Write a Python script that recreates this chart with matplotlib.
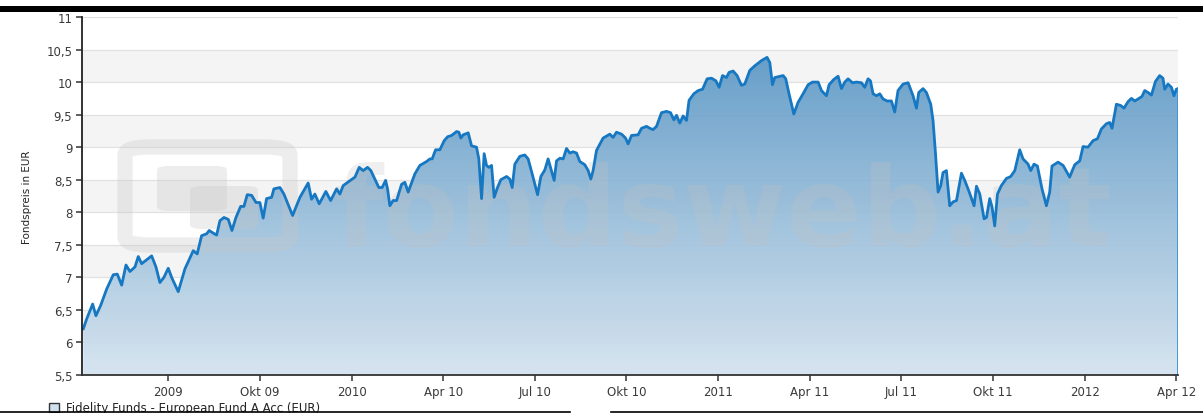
import numpy as np
import matplotlib
matplotlib.use("Agg")
import matplotlib.pyplot as plt
from matplotlib.patches import Polygon, Rectangle, FancyBboxPatch
from matplotlib.lines import Line2D

# ---------------- data ----------------
# x position in "tick units": 0 = 2009, 1 = Okt 09, 2 = 2010, ... 11 = Apr 12
pos = [
    -0.927, -0.890, -0.825, -0.789, -0.737, -0.672, -0.600, -0.556, -0.508, -0.461,
    -0.418, -0.363, -0.327, -0.290, -0.181, -0.134, -0.091, -0.047, 0.000, 0.037,
    0.109, 0.182, 0.273, 0.316, 0.364, 0.419, 0.447, 0.491, 0.528, 0.564,
    0.608, 0.655, 0.695, 0.739, 0.790, 0.826, 0.862, 0.910, 0.957, 1.000,
    1.036, 1.073, 1.128, 1.153, 1.219, 1.262, 1.357, 1.437, 1.527, 1.564,
    1.600, 1.647, 1.720, 1.772, 1.837, 1.873, 1.909, 2.037, 2.084,
    2.127, 2.175, 2.211, 2.255, 2.298, 2.334, 2.372, 2.393, 2.418, 2.454,
    2.492, 2.546, 2.582, 2.618, 2.691, 2.746, 2.819, 2.855, 2.880, 2.917,
    2.964, 3.011, 3.048, 3.092, 3.146, 3.171, 3.193, 3.218, 3.273, 3.310,
    3.364, 3.389, 3.419, 3.447, 3.473, 3.498, 3.528, 3.556, 3.593, 3.629,
    3.692, 3.727, 3.753, 3.782, 3.837, 3.891, 3.927, 3.971, 4.030, 4.066,
    4.109, 4.145, 4.175, 4.211, 4.237, 4.273, 4.309, 4.346, 4.382, 4.418,
    4.455, 4.491, 4.546, 4.582, 4.611, 4.636, 4.673, 4.745, 4.818, 4.854,
    4.891, 4.946, 4.990, 5.018, 5.055,
    5.127, 5.164, 5.219, 5.255, 5.291, 5.328, 5.382, 5.437, 5.481, 5.517,
    5.546, 5.582, 5.618, 5.655, 5.683, 5.735, 5.782, 5.830, 5.880, 5.928,
    5.975, 6.011, 6.048, 6.091, 6.120, 6.164, 6.207, 6.255, 6.291, 6.346,
    6.400, 6.473, 6.534, 6.564, 6.593, 6.618, 6.709, 6.738, 6.774, 6.826,
    6.873, 6.927, 6.982, 7.030, 7.091, 7.128, 7.182, 7.211, 7.262, 7.309,
    7.346, 7.382, 7.418, 7.466, 7.510, 7.564, 7.600, 7.636, 7.662, 7.691,
    7.728, 7.764, 7.800, 7.843, 7.891, 7.927, 7.963, 8.018, 8.073,
    8.127, 8.164, 8.189, 8.236, 8.273, 8.320, 8.345, 8.371, 8.400, 8.429,
    8.454, 8.491, 8.527, 8.564, 8.601, 8.655, 8.691, 8.735, 8.793, 8.819,
    8.855, 8.902, 8.928, 8.964, 8.989, 9.018, 9.048, 9.091, 9.146, 9.193,
    9.237, 9.291, 9.327, 9.382, 9.411, 9.447, 9.484, 9.534, 9.582, 9.618,
    9.643, 9.709, 9.764, 9.836, 9.891, 9.946, 9.982, 10.036, 10.091, 10.139,
    10.182, 10.237, 10.273, 10.298, 10.346, 10.393, 10.429, 10.473, 10.510, 10.546,
    10.582, 10.625, 10.655, 10.691, 10.728, 10.772, 10.818, 10.854, 10.873, 10.909,
    10.946, 10.974, 11.000, 11.018,
]
price = [
    6.21, 6.36, 6.59, 6.41, 6.57, 6.82, 7.04, 7.05, 6.88, 7.19,
    7.09, 7.16, 7.32, 7.21, 7.33, 7.16, 6.92, 7.00, 7.14, 7.00,
    6.78, 7.13, 7.41, 7.36, 7.64, 7.67, 7.72, 7.68, 7.65, 7.87,
    7.92, 7.89, 7.72, 7.92, 8.09, 8.09, 8.27, 8.26, 8.15, 8.15,
    7.91, 8.21, 8.23, 8.36, 8.38, 8.28, 7.95, 8.23, 8.45, 8.20,
    8.28, 8.13, 8.32, 8.18, 8.36, 8.28, 8.41, 8.54, 8.69,
    8.64, 8.69, 8.64, 8.51, 8.38, 8.38, 8.49, 8.36, 8.10, 8.18,
    8.18, 8.43, 8.46, 8.31, 8.59, 8.72, 8.78, 8.82, 8.82, 8.96,
    8.96, 9.10, 9.16, 9.18, 9.24, 9.23, 9.14, 9.19, 9.22, 9.02,
    9.00, 8.82, 8.21, 8.90, 8.72, 8.69, 8.72, 8.23, 8.38, 8.50,
    8.55, 8.51, 8.38, 8.74, 8.86, 8.88, 8.82, 8.59, 8.27, 8.55,
    8.65, 8.82, 8.67, 8.49, 8.79, 8.83, 8.82, 8.98, 8.91, 8.93,
    8.91, 8.78, 8.73, 8.64, 8.51, 8.64, 8.95, 9.14, 9.20, 9.15,
    9.23, 9.20, 9.14, 9.05, 9.18,
    9.19, 9.29, 9.32, 9.29, 9.27, 9.32, 9.53, 9.55, 9.53, 9.42,
    9.49, 9.37, 9.48, 9.41, 9.72, 9.82, 9.87, 9.89, 10.05, 10.06,
    10.02, 9.92, 10.10, 10.07, 10.15, 10.17, 10.10, 9.95, 9.97, 10.18,
    10.25, 10.33, 10.38, 10.30, 9.96, 10.07, 10.10, 10.05, 9.82, 9.51,
    9.69, 9.82, 9.96, 10.00, 10.00, 9.87, 9.79, 9.96, 10.04, 10.09,
    9.90, 10.00, 10.05, 9.99, 10.00, 9.99, 9.92, 10.05, 10.02, 9.82,
    9.79, 9.82, 9.74, 9.71, 9.71, 9.54, 9.87, 9.97, 9.99,
    9.79, 9.60, 9.84, 9.90, 9.84, 9.66, 9.41, 8.92, 8.31, 8.41,
    8.61, 8.64, 8.10, 8.16, 8.18, 8.60, 8.49, 8.33, 8.10, 8.40,
    8.28, 7.90, 7.92, 8.21, 8.08, 7.79, 8.28, 8.41, 8.52, 8.55,
    8.64, 8.96, 8.82, 8.74, 8.64, 8.74, 8.71, 8.36, 8.10, 8.31,
    8.71, 8.77, 8.72, 8.54, 8.73, 8.79, 9.01, 9.00, 9.10, 9.13,
    9.28, 9.36, 9.38, 9.29, 9.66, 9.64, 9.60, 9.70, 9.75, 9.71,
    9.74, 9.78, 9.87, 9.84, 9.80, 10.01, 10.10, 10.06, 9.89, 9.97,
    9.92, 9.79, 9.89, 9.90,
]
x_tick_pos = [0, 1, 2, 3, 4, 5, 6, 7, 8, 9, 10, 11]
x_tick_labels = ["2009", "Okt 09", "2010", "Apr 10", "Jul 10", "Okt 10",
                 "2011", "Apr 11", "Jul 11", "Okt 11", "2012", "Apr 12"]
y_ticks = [5.5, 6, 6.5, 7, 7.5, 8, 8.5, 9, 9.5, 10, 10.5, 11]
y_label = "Fondspreis in EUR"
legend_label = "Fidelity Funds - European Fund A Acc (EUR)"
watermark = "fondsweb.at"

# ---------------- figure ----------------
W, H = 1203, 414
fig = plt.figure(figsize=(W / 100, H / 100), dpi=100)
fig.patch.set_facecolor("white")
ax = fig.add_axes([82 / W, 1 - 376 / H, (1178 - 82) / W, (376 - 18) / H])

x = np.array(pos)
y = np.array(price)
ymin, ymax = 5.5, 11
xmin, xmax = -0.941, 11.018
ax.set_xlim(xmin, xmax)
ax.set_ylim(ymin, ymax)

# alternating bands + grid
for i, lo in enumerate(y_ticks[:-1]):
    if i % 2 == 1:
        ax.axhspan(lo, lo + 0.5, color="#f4f4f4", lw=0, zorder=0)
for t in y_ticks:
    ax.axhline(t, color="#e1e1e1", lw=0.9, zorder=0.5)

# gradient fill under the line
verts = np.vstack([[x[0], ymin], np.column_stack([x, y]), [x[-1], ymin]])
poly = Polygon(verts, closed=True, facecolor="none", edgecolor="none",
               transform=ax.transData)
ax.add_patch(poly)
top = np.array([80, 144, 193]) / 255
bot = np.array([212, 227, 239]) / 255
tt = np.linspace(0, 1, 256)[:, None]
grad = bot[None, :] * (1 - tt) + top[None, :] * tt
rgba = np.concatenate([grad, np.full((256, 1), 0.94)], axis=1)[:, None, :]
im = ax.imshow(rgba, extent=[xmin, xmax, ymin, ymax], origin="lower",
               aspect="auto", zorder=1, interpolation="bilinear")
im.set_clip_path(poly)

# watermark (logo + text) - under the line, light grey, semi-transparent
wmc = (0.78, 0.78, 0.78, 0.32)
wm = dict(transform=fig.transFigure, zorder=3, clip_on=False)
ax.add_patch(FancyBboxPatch((125 / W, 1 - 246 / H), 165 / W, 98 / H,
                            boxstyle="round,pad=0,rounding_size=0.02",
                            facecolor="none", edgecolor=wmc, lw=11, **wm))
ax.add_patch(FancyBboxPatch((157 / W, 1 - 212 / H), 70 / W, 45 / H,
                            boxstyle="round,pad=0,rounding_size=0.01",
                            facecolor=wmc, edgecolor="none", **wm))
ax.add_patch(FancyBboxPatch((190 / W, 1 - 230 / H), 68 / W, 43 / H,
                            boxstyle="round,pad=0,rounding_size=0.01",
                            facecolor=wmc, edgecolor="none", **wm))
ax.text(335 / W, 1 - 246 / H, watermark, fontsize=80, fontweight="bold",
        color=(0.76, 0.76, 0.76, 0.26), ha="left", va="baseline",
        transform=fig.transFigure, zorder=3, clip_on=False)

# line
ax.plot(x, y, color="#1677c2", lw=2.0, zorder=4, solid_joinstyle="round")
ax.vlines(x[-1], ymin, y[-1], color="#3d93d3", lw=1.3, zorder=4)

# axes styling
for s in ["top", "right"]:
    ax.spines[s].set_visible(False)
ax.spines["left"].set_color("#222222")
ax.spines["bottom"].set_color("#333333")
ax.spines["left"].set_linewidth(1.3)
ax.spines["bottom"].set_linewidth(1.3)
ax.spines["left"].set_zorder(5)
ax.spines["bottom"].set_zorder(5)

ax.set_xticks(x_tick_pos)
ax.set_xticklabels(x_tick_labels)
ax.set_yticks(y_ticks)
ax.set_yticklabels([("%g" % v).replace(".", ",") for v in y_ticks])
ax.tick_params(axis="both", direction="out", length=4, width=1.1,
               colors="#333333", labelsize=8.5, labelcolor="#3a3a3a")
ax.tick_params(axis="y", pad=3)
ax.tick_params(axis="x", pad=3)
ax.set_ylabel(y_label, fontsize=7.5, color="#222222", labelpad=10)

# page decorations: top black bar, bottom rules, legend
fig.patches.append(Rectangle((0, 1 - 12.7 / H), 1, 5.7 / H, transform=fig.transFigure,
                             facecolor="black", edgecolor="none", zorder=20))
fig.add_artist(Line2D([0, 570 / W], [1 - 413 / H] * 2, color="black", lw=1.2,
                      transform=fig.transFigure, zorder=20))
fig.add_artist(Line2D([611 / W, 1], [1 - 413 / H] * 2, color="black", lw=1.2,
                      transform=fig.transFigure, zorder=20))
fig.patches.append(Rectangle((49 / W, 1 - 413 / H), 10 / W, 9 / H, transform=fig.transFigure,
                             facecolor="#cfe0ee", edgecolor="#333333", lw=1, zorder=19))
fig.text(66 / W, 1 - 402 / H, legend_label, fontsize=8.5, color="#222222",
         ha="left", va="top", zorder=19)

fig.savefig("out.png", dpi=100, facecolor="white")
